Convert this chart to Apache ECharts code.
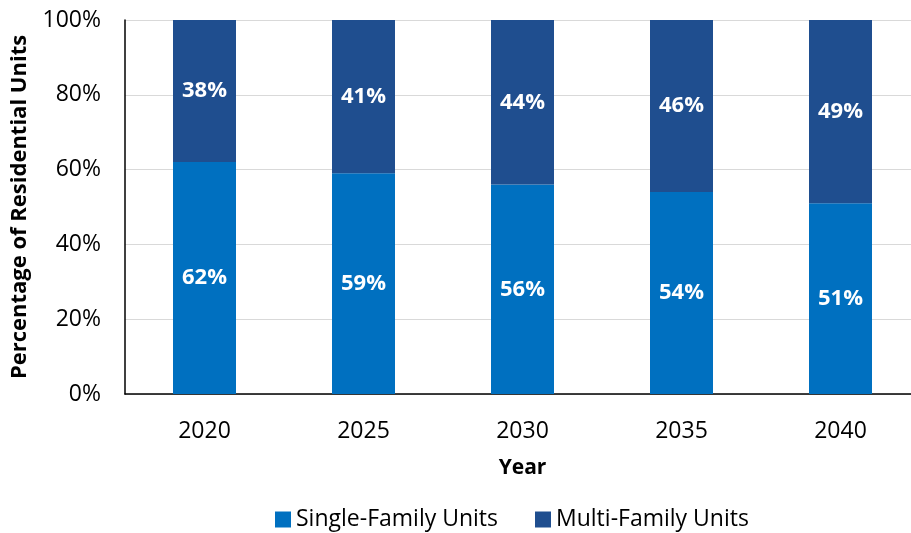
<!DOCTYPE html>
<html>
<head>
<meta charset="utf-8">
<script src="https://cdn.jsdelivr.net/npm/echarts@6/dist/echarts.min.js"></script>
<style>
  html, body { margin: 0; padding: 0; background: #fff; }
  #chart { width: 911px; height: 533px; }
</style>
</head>
<body>
<div id="chart"></div>
<script>
// data
const years = ['2020', '2025', '2030', '2035', '2040']
const singleFamily = [62, 59, 56, 54, 51]
const multiFamily = [38, 41, 44, 46, 49]
const yTicks = [0, 20, 40, 60, 80, 100]

const font = '"Open Sans", "Noto Sans", sans-serif'

const myChart = echarts.init(document.getElementById('chart'))

const barLabel = {
    show: true,
    position: 'inside',
    color: '#fff',
    fontFamily: font,
    fontWeight: 'bold',
    fontSize: 22,
    formatter: p => p.value + '%'
}

myChart.setOption({
    animation: false,
    textStyle: { fontFamily: font },
    grid: { left: 125, right: -9, top: 20, bottom: 139, outerBoundsMode: 'none', containLabel: false },
    legend: {
        left: 270,
        top: 503,
        itemWidth: 16,
        itemHeight: 16,
        itemGap: 37,
        icon: 'rect',
        textStyle: { fontSize: 23, color: '#000', fontFamily: font },
        data: ['Single-Family Units', 'Multi-Family Units']
    },
    xAxis: {
        type: 'category',
        data: years,
        name: 'Year',
        nameLocation: 'middle',
        nameGap: 64,
        nameTextStyle: { fontSize: 21, fontWeight: 'bold', color: '#000' },
        axisLine: { lineStyle: { color: '#000', width: 1.5 } },
        axisTick: { show: false },
        axisLabel: { fontSize: 23, color: '#000', margin: 26 }
    },
    yAxis: {
        type: 'value',
        min: yTicks[0],
        max: yTicks[yTicks.length - 1],
        interval: 20,
        name: 'Percentage of Residential Units',
        nameLocation: 'middle',
        nameGap: 94,
        nameTextStyle: { fontSize: 22, fontWeight: 'bold', color: '#000' },
        axisLine: { show: true, lineStyle: { color: '#000', width: 1.5 } },
        axisTick: { show: false },
        axisLabel: { fontSize: 23, color: '#000', margin: 24, formatter: '{value}%' },
        splitLine: { lineStyle: { color: '#d9d9d9', width: 1 } }
    },
    series: [
        {
            name: 'Single-Family Units',
            type: 'bar',
            stack: 'total',
            barWidth: 63,
            data: singleFamily,
            itemStyle: { color: '#0070c0' },
            label: barLabel
        },
        {
            name: 'Multi-Family Units',
            type: 'bar',
            stack: 'total',
            barWidth: 63,
            data: multiFamily,
            itemStyle: { color: '#1f4e8f' },
            label: barLabel
        }
    ]
})
</script>
</body>
</html>
